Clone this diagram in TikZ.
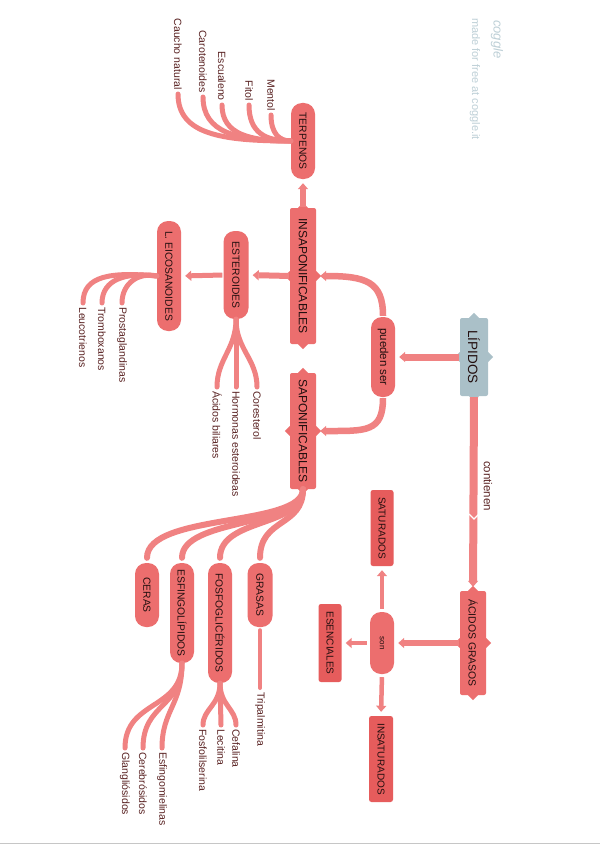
\documentclass[tikz,border=0pt]{standalone}
\usepackage{fontspec}
\setmainfont{Liberation Sans}
\usetikzlibrary{arrows.meta}
\definecolor{nodecol}{RGB}{236,110,110}
\definecolor{boxcol}{RGB}{230,92,92}
\definecolor{linecol}{RGB}{240,130,130}
\definecolor{lipcol}{RGB}{170,192,200}
\definecolor{leafcol}{RGB}{90,35,35}
\definecolor{txtcol}{RGB}{35,15,15}
\definecolor{wmcol}{RGB}{190,208,215}
\newcommand\mknotch[2]{\fill[#2] (#1) +(-5,0) -- +(0,-5) -- +(5,0) -- +(0,5) -- cycle;}
\begin{document}
\begin{tikzpicture}[x=1pt,y=-1pt,
 base/.style={rotate=-90, text=txtcol, inner sep=0pt, align=center},
 pill/.style={base, fill=nodecol, rounded corners=11pt, font=\fontsize{10.3}{12}\selectfont},
 mainbox/.style={base, fill=nodecol, rounded corners=2pt, font=\fontsize{12}{14}\selectfont},
 subbox/.style={base, fill=boxcol, rounded corners=2.5pt, font=\fontsize{10}{12}\selectfont},
 leaf/.style={rotate=-90, text=leafcol, inner xsep=4pt, inner ysep=1pt, font=\fontsize{10.5}{12}\selectfont},
 conn/.style={draw=linecol, line width=6pt, -{Triangle[width=10pt,length=6pt]}, shorten >=4pt, shorten <=1pt},
 branch/.style={draw=linecol, line width=5pt, line cap=round},
 ]
\fill[white] (0,0) rectangle (600,848);
\useasboundingbox (0,0) rectangle (600,848);
\draw[gray!45, line width=1pt] (0,843.5) -- (600,843.5);

% watermark
\node[rotate=-90, anchor=west, text=wmcol, font=\fontsize{11}{12}\selectfont, inner sep=0pt] (wm) at (475,18) {made for free at coggle.it};
\node[rotate=-90, anchor=west, text=wmcol, font=\itshape\fontsize{13}{14}\selectfont, inner sep=0pt] (cg) at (497,20) {coggle};

% main nodes
\node[base, fill=lipcol, rounded corners=2pt, minimum width=78pt, minimum height=28pt, font=\fontsize{13.5}{15}\selectfont] (lip) at (474,357) {LÍPIDOS};
\node[pill, minimum width=80pt, minimum height=24pt, font=\fontsize{11.5}{13}\selectfont] (pue) at (383,357) {pueden ser};
\node[mainbox, minimum width=136pt, minimum height=26pt] (insap) at (303,276) {INSAPONIFICABLES};
\node[mainbox, minimum width=116pt, minimum height=26pt] (sap) at (303,431) {SAPONIFICABLES};
\node[pill, minimum width=76pt, minimum height=24pt] (terp) at (303,141) {TERPENOS};
\node[pill, minimum width=88pt, minimum height=25pt] (est) at (236,275) {ESTEROIDES};
\node[pill, minimum width=110pt, minimum height=24pt] (eico) at (169,276) {L. EICOSANOIDES};
\node[pill, minimum width=64pt, minimum height=25pt] (gra) at (260,595) {GRASAS};
\node[pill, minimum width=120pt, minimum height=24pt] (fos) at (220,623) {FOSFOGLICÉRIDOS};
\node[pill, minimum width=100pt, minimum height=24pt] (esf) at (182,613) {ESFINGOLÍPIDOS};
\node[pill, minimum width=64pt, minimum height=24pt] (cer) at (147,595) {CERAS};
\node[mainbox, font=\fontsize{10.4}{12}\selectfont, minimum width=104pt, minimum height=26pt] (aci) at (473,643) {ÁCIDOS GRASOS};
\node[pill, font=\fontsize{8}{10}\selectfont, minimum width=62pt, minimum height=24pt] (son) at (382,643) {son};
\node[subbox, minimum width=76pt, minimum height=23pt] (sat) at (382,528) {SATURADOS};
\node[subbox, minimum width=86pt, minimum height=24pt] (ins) at (381,759) {INSATURADOS};
\node[subbox, minimum width=78pt, minimum height=23pt] (ese) at (330,643) {ESENCIALES};

% notches
\foreach \a in {north,south,east,west}{
  \mknotch{lip.\a}{lipcol}
  \mknotch{insap.\a}{nodecol}
  \mknotch{sap.\a}{nodecol}
  \mknotch{aci.\a}{nodecol}
}

% leaf labels
\node[leaf, anchor=east] (mentol) at (271,115) {Mentol};
\node[leaf, anchor=east] (fitol) at (249,105) {Fitol};
\node[leaf, anchor=east] (escu) at (222,105) {Escualeno};
\node[leaf, anchor=east] (carot) at (203,97) {Carotenoides};
\node[leaf, anchor=east] (cauch) at (178,94) {Caucho natural};

\node[leaf, anchor=west] (prost) at (122,303) {Prostaglandinas};
\node[leaf, anchor=west] (tromb) at (102,303) {Tromboxanos};
\node[leaf, anchor=west] (leuco) at (83,303) {Leucotrienos};

\node[leaf, anchor=west] (cores) at (257,387) {Coresterol};
\node[leaf, anchor=west] (hormo) at (236,387) {Hormonas esteroideas};
\node[leaf, anchor=west] (acbil) at (217,387) {Ácidos biliares};

\node[leaf, anchor=west] (tripa) at (260,688) {Tripalmitina};

\node[leaf, anchor=west] (cefal) at (236,725) {Cefalina};
\node[leaf, anchor=west] (lecit) at (221,725) {Lecitina};
\node[leaf, anchor=west] (fosfs) at (203,725) {Fosfolilserina};

\node[leaf, anchor=west] (esfmi) at (162,748) {Esfingomielinas};
\node[leaf, anchor=west] (cereb) at (143,748) {Cerebrósidos};
\node[leaf, anchor=west] (gangl) at (125,748) {Glangliósidos};

\node[leaf, anchor=west, font=\fontsize{11.5}{13}\selectfont, inner xsep=0pt] (cont) at (488,461) {contienen};

% connectors
\draw[conn, line width=7pt] (lip.south) -- (pue.north);
\draw[conn, line width=6.5pt] (pue.west) .. controls +(0,-35) and +(50,0) .. (insap.north);
\draw[conn, line width=6.5pt] (pue.east) .. controls +(0,35) and +(50,0) .. (sap.north);
\draw[conn] (insap.west) -- (terp.east);
\draw[conn] (insap.south) -- (est.north);
\draw[conn, line width=5pt] (est.south) -- (eico.north);
\draw[conn, line width=8pt] (lip.east) -- (aci.west);
\draw[white, line width=1.2pt] (469,514) -- (474,519) -- (479,514);
\draw[conn, line width=5.5pt] (aci.south) -- (son.north);
\draw[conn, line width=4.5pt, shorten <=3pt] (son.west) -- (sat.east);
\draw[conn, line width=4.5pt, shorten <=3pt] (son.east) -- (ins.west);
\draw[conn, line width=4.5pt, shorten <=3pt] (son.south) -- (ese.north);

% terpenos branches
\draw[branch] (terp.south) .. controls +(-12,0) and +(0,18) .. (mentol.east);
\draw[branch] (terp.south) .. controls +(-25,0) and +(0,28) .. (fitol.east);
\draw[branch] (terp.south) .. controls +(-40,0) and +(0,30) .. (escu.east);
\draw[branch] (terp.south) .. controls +(-55,0) and +(0,35) .. (carot.east);
\draw[branch] (terp.south) .. controls +(-70,0) and +(0,40) .. (cauch.east);

% eicosanoides branches
\draw[branch] (eico.south) .. controls +(-18,-4) and +(0,-20) .. (prost.west);
\draw[branch] (eico.south) .. controls +(-30,-4) and +(0,-24) .. (tromb.west);
\draw[branch] (eico.south) .. controls +(-45,-4) and +(0,-28) .. (leuco.west);

% esteroides branches
\draw[branch] (est.east) .. controls +(0,30) and +(0,-28) .. (cores.west);
\draw[branch] (est.east) -- (hormo.west);
\draw[branch] (est.east) .. controls +(0,30) and +(0,-28) .. (acbil.west);

% saponificables branches
\draw[branch, line width=6pt, shorten >=5pt] (sap.east) .. controls +(0,38) and +(0,-45) .. (gra.west);
\draw[branch, line width=6pt, shorten >=5pt] (sap.east) .. controls +(0,38) and +(0,-45) .. (fos.west);
\draw[branch, line width=6pt, shorten >=5pt] (sap.east) .. controls +(0,38) and +(0,-45) .. (esf.west);
\draw[branch, line width=6pt, shorten >=5pt] (sap.east) .. controls +(0,38) and +(0,-50) .. (cer.west);

\draw[branch, line width=4pt, shorten <=3pt] (gra.east) -- (tripa.west);

\draw[branch] (fos.east) .. controls +(0,22) and +(0,-16) .. (cefal.west);
\draw[branch] (fos.east) -- (lecit.west);
\draw[branch] (fos.east) .. controls +(0,22) and +(0,-16) .. (fosfs.west);

\draw[branch] (esf.east) .. controls +(0,42) and +(0,-38) .. (esfmi.west);
\draw[branch] (esf.east) .. controls +(0,45) and +(0,-45) .. (cereb.west);
\draw[branch] (esf.east) .. controls +(0,47) and +(0,-48) .. (gangl.west);
\end{tikzpicture}
\end{document}
